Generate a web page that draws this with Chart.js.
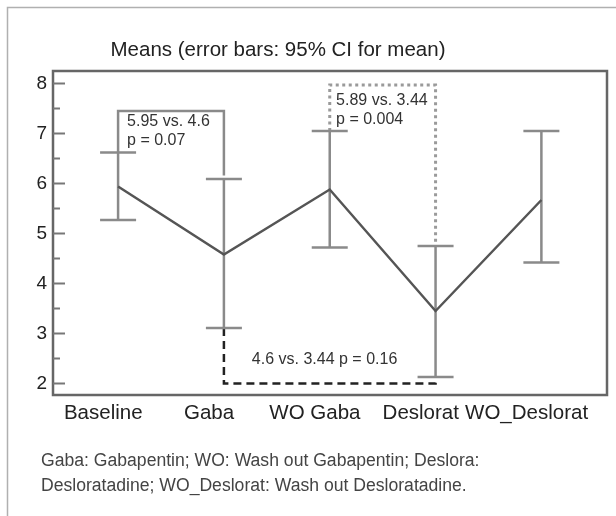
<!DOCTYPE html>
<html>
<head>
<meta charset="utf-8">
<script src="https://cdn.jsdelivr.net/npm/chart.js@4/dist/chart.umd.min.js"></script>
<style>
  html, body { margin: 0; padding: 0; background: #fff; }
  #wrap { width: 616px; height: 516px; }
</style>
</head>
<body>
<div id="wrap"><canvas id="meansChart" width="616" height="516"></canvas></div>
<script>
// Données
const categories = ['Baseline', 'Gaba', 'WO Gaba', 'Deslorat', 'WO_Deslorat'];
const xPos = [0, 1, 2, 3, 4];
const means = [5.94, 4.58, 5.88, 3.45, 5.67];
const ciLow = [5.27, 3.11, 4.72, 2.13, 4.42];
const ciHigh = [6.62, 6.09, 7.05, 4.75, 7.05];
const yTicks = [2, 3, 4, 5, 6, 7, 8];

// Comparaisons (crochets)
const bracketA = [{ x: 0, y: 6.62 }, { x: 0, y: 7.45 }, { x: 1, y: 7.45 }, { x: 1, y: 6.16 }];
const bracketB = [{ x: 2, y: 7.05 }, { x: 2, y: 7.97 }, { x: 3, y: 7.97 }, { x: 3, y: 4.78 }];
const bracketC = [{ x: 1, y: 3.11 }, { x: 1, y: 2.0 }, { x: 3, y: 2.0 }, { x: 3, y: 2.13 }];

const notes = [
    { x: 0.085, y: 7.23, text: '5.95 vs. 4.6' },
    { x: 0.085, y: 6.85, text: 'p = 0.07' },
    { x: 2.06, y: 7.65, text: '5.89 vs. 3.44' },
    { x: 2.06, y: 7.28, text: 'p = 0.004' },
    { x: 1.264, y: 2.47, text: '4.6 vs. 3.44 p = 0.16' }
];

const FONT = '"Liberation Sans", Arial, sans-serif';
const labelShift = -0.14;

// Barres d'erreur : segments verticaux séparés par des trous
const whiskers = [];
xPos.forEach((x, i) => {
    whiskers.push({ x: x, y: ciLow[i] }, { x: x, y: ciHigh[i] }, { x: x, y: null });
});
const caps = [];
xPos.forEach((x, i) => {
    caps.push({ x: x, y: ciLow[i] }, { x: x, y: ciHigh[i] });
});

// Cadre, graduations internes, titres et annotations
const decorPlugin = {
    id: 'decor',
    afterDraw(chart) {
        const ctx = chart.ctx;
        const area = chart.chartArea;
        const xs = chart.scales.x;
        const ys = chart.scales.y;
        ctx.save();

        // cadre extérieur
        ctx.strokeStyle = '#b0b0b0';
        ctx.lineWidth = 1.5;
        ctx.beginPath();
        ctx.moveTo(7.5, 516);
        ctx.lineTo(7.5, 7.5);
        ctx.lineTo(616, 7.5);
        ctx.stroke();

        // cadre du graphique
        ctx.strokeStyle = '#666';
        ctx.lineWidth = 2.5;
        ctx.strokeRect(area.left, area.top, area.right - area.left, area.bottom - area.top);

        // graduations vers l'intérieur
        ctx.strokeStyle = '#777';
        ctx.lineWidth = 2;
        for (let v = 2; v <= 8; v += 0.5) {
            const py = ys.getPixelForValue(v);
            const len = Number.isInteger(v) ? 12 : 7;
            ctx.beginPath();
            ctx.moveTo(area.left, py);
            ctx.lineTo(area.left + len, py);
            ctx.stroke();
        }

        // titre
        ctx.fillStyle = '#222';
        ctx.textAlign = 'center';
        ctx.textBaseline = 'middle';
        ctx.font = '20.5px ' + FONT;
        ctx.fillText('Means (error bars: 95% CI for mean)', 278, 50);

        // annotations
        ctx.textAlign = 'left';
        ctx.font = '16px ' + FONT;
        ctx.fillStyle = '#333';
        notes.forEach(n => {
            ctx.fillText(n.text, xs.getPixelForValue(n.x), ys.getPixelForValue(n.y));
        });

        // note de bas de figure
        ctx.font = '17.6px ' + FONT;
        ctx.fillStyle = '#444';
        ctx.fillText('Gaba: Gabapentin; WO: Wash out Gabapentin; Deslora:', 41, 461);
        ctx.fillText('Desloratadine; WO_Deslorat: Wash out Desloratadine.', 41, 486);

        ctx.restore();
    }
};

const ctx = document.getElementById('meansChart').getContext('2d');
new Chart(ctx, {
    type: 'scatter',
    data: {
        datasets: [
            {
                label: 'Means',
                data: xPos.map((x, i) => ({ x: x, y: means[i] })),
                showLine: true,
                borderColor: '#555',
                borderWidth: 2.5,
                pointRadius: 0,
                order: 1
            },
            {
                label: 'CI',
                data: whiskers,
                showLine: true,
                spanGaps: false,
                borderColor: '#8a8a8a',
                borderWidth: 2.5,
                pointRadius: 0,
                order: 2
            },
            {
                label: 'Caps',
                data: caps,
                showLine: false,
                pointStyle: 'line',
                pointRadius: 18,
                pointBorderWidth: 2.5,
                pointBorderColor: '#8a8a8a',
                order: 2
            },
            {
                label: 'A',
                data: bracketA,
                showLine: true,
                borderColor: '#8a8a8a',
                borderWidth: 2.5,
                pointRadius: 0,
                order: 3
            },
            {
                label: 'B',
                data: bracketB,
                showLine: true,
                borderColor: '#9a9a9a',
                borderWidth: 3,
                borderDash: [3, 3.5],
                pointRadius: 0,
                order: 3
            },
            {
                label: 'C',
                data: bracketC,
                showLine: true,
                borderColor: '#222',
                borderWidth: 2.5,
                borderDash: [8, 5],
                pointRadius: 0,
                order: 3
            }
        ]
    },
    options: {
        responsive: false,
        animation: false,
        layout: { autoPadding: false, padding: { left: 0, right: 9, top: 71, bottom: 0 } },
        plugins: {
            legend: { display: false },
            tooltip: { enabled: false },
            title: { display: false }
        },
        scales: {
            x: {
                type: 'linear',
                min: -0.615,
                max: 4.62,
                grid: { display: false, drawTicks: false },
                border: { display: false },
                afterBuildTicks: s => { s.ticks = xPos.map(x => ({ value: x + labelShift })); },
                afterFit: s => {
                    s.height = 121;
                    s.paddingLeft = 0;
                    s.paddingRight = 0;
                },
                ticks: {
                    autoSkip: false,
                    maxRotation: 0,
                    padding: 6,
                    color: '#222',
                    font: { size: 20.5, family: FONT },
                    callback: (v, i) => categories[i]
                }
            },
            y: {
                min: 1.77,
                max: 8.25,
                grid: { display: false, drawTicks: false },
                border: { display: false },
                afterBuildTicks: s => { s.ticks = yTicks.map(v => ({ value: v })); },
                afterFit: s => {
                    s.width = 53;
                    s.paddingTop = 0;
                    s.paddingBottom = 0;
                },
                ticks: {
                    padding: 6,
                    color: '#222',
                    font: { size: 19, family: FONT }
                }
            }
        }
    },
    plugins: [decorPlugin]
});
</script>
</body>
</html>
